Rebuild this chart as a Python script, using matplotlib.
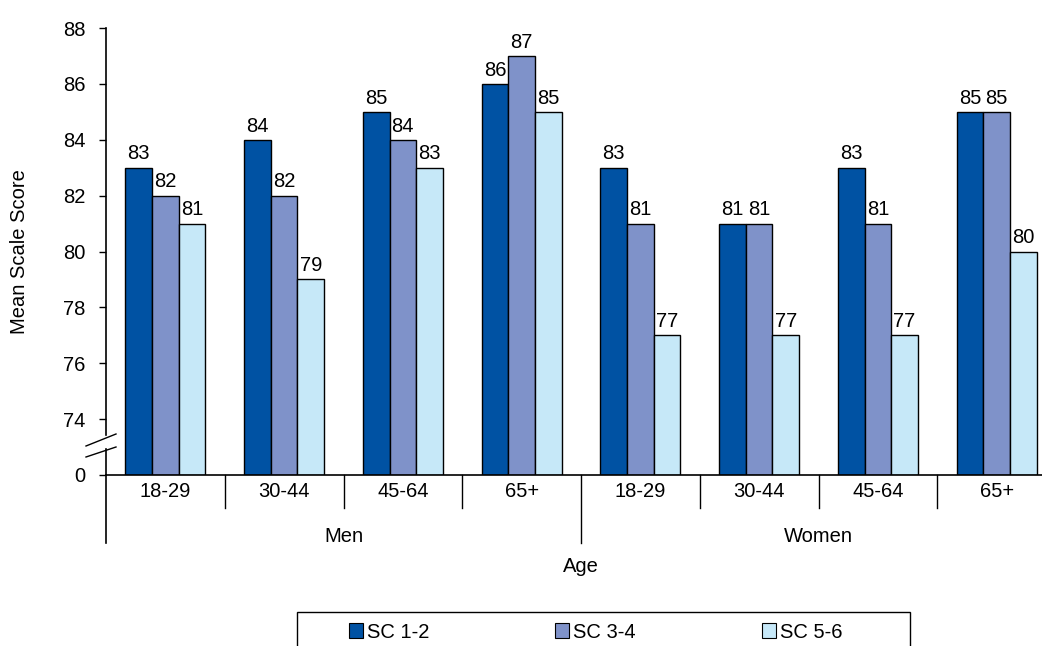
import matplotlib
matplotlib.use("Agg")
import matplotlib.pyplot as plt
from matplotlib.patches import Rectangle, Patch
import numpy as np

plt.rcParams["font.family"] = ["Liberation Sans", "DejaVu Sans"]

sexes = ["Men", "Women"]
ages = ["18-29", "30-44", "45-64", "65+"]
series = ["SC 1-2", "SC 3-4", "SC 5-6"]
colors = ["#0052a3", "#7f92c9", "#c6e8f8"]
sc12 = [83, 84, 85, 86, 83, 81, 83, 85]
sc34 = [82, 82, 84, 87, 81, 81, 81, 85]
sc56 = [81, 79, 83, 85, 77, 77, 77, 80]
yticks = [74, 76, 78, 80, 82, 84, 86, 88]

BASE = 72  # plotted position of the broken-axis zero
FS = 14.5

fig = plt.figure(figsize=(10.42, 6.46), dpi=100)
ax = fig.add_axes([106 / 1042, 171 / 646, 950 / 1042, 447 / 646])

n = len(sc12)
x = np.arange(n) + 0.5
w = 0.225
for i, (vals, col) in enumerate(zip([sc12, sc34, sc56], colors)):
    vals = np.array(vals)
    pos = x + (i - 1) * w
    ax.bar(pos, vals - BASE, bottom=BASE, width=w, color=col,
           edgecolor="black", linewidth=1.0, zorder=2)
    for p, v in zip(pos, vals):
        ax.text(p, v + 0.15, str(v), ha="center", va="bottom", fontsize=FS)

ax.set_xlim(0, n)
ax.set_ylim(BASE, 88)
ax.set_yticks([BASE] + yticks)
ax.set_yticklabels(["0"] + [str(t) for t in yticks], fontsize=FS)
ax.tick_params(axis="y", direction="out", length=5, width=1.0, pad=10)
ax.set_xticks([])
for s in ["top", "right"]:
    ax.spines[s].set_visible(False)
ax.spines["left"].set_visible(False)
ax.spines["bottom"].set_linewidth(1.2)

# y axis with break
ppu = 447 / 16.0
def yv(px):  # pixel offset below baseline -> data value
    return BASE - px / ppu
ybreak_lo = BASE + (475 - 449) / ppu
ybreak_hi = BASE + (475 - 435) / ppu
ax.plot([0, 0], [BASE, ybreak_lo], color="black", lw=1.2, clip_on=False)
ax.plot([0, 0], [ybreak_hi, 88], color="black", lw=1.2, clip_on=False)
for y0, y1 in [(475 - 446, 475 - 434), (475 - 457, 475 - 447)]:
    ax.plot([-20 / 118.75, 10 / 118.75],
            [BASE + y0 / ppu, BASE + y1 / ppu],
            color="black", lw=1.0, clip_on=False)

# category dividers below the axis
for k in range(1, n):
    depth = 68 if k == 4 else 33
    ax.plot([k, k], [BASE, yv(depth)], color="black", lw=1.0, clip_on=False)
ax.plot([0, 0], [BASE, yv(68)], color="black", lw=1.2, clip_on=False)

for k in range(n):
    ax.text(x[k], yv(17), ages[k % 4], ha="center", va="center", fontsize=FS)
for j, s in enumerate(sexes):
    ax.text(2 + 4 * j, yv(61), s, ha="center", va="center", fontsize=FS)
ax.text(4, yv(91), "Age", ha="center", va="center", fontsize=FS)

fig.text(20 / 1042, 1 - 252 / 646, "Mean Scale Score", rotation=90,
         ha="center", va="center", fontsize=FS)

# legend box (clipped at the bottom of the figure)
fig.patches.append(Rectangle((297 / 1042, -0.05), 613 / 1042, 0.05 + 34 / 646,
                             transform=fig.transFigure, fill=False,
                             edgecolor="black", linewidth=1.0))
handles = [Patch(facecolor=c, edgecolor="black", linewidth=0.8) for c in colors]
fig.legend(handles, series, loc="center left", ncol=3, frameon=False,
           bbox_to_anchor=(349 / 1042, 14 / 646), fontsize=FS,
           handlelength=0.7, handleheight=0.7, handletextpad=0.2,
           columnspacing=6.25, borderaxespad=0, borderpad=0)

fig.savefig("out.png", dpi=100)
